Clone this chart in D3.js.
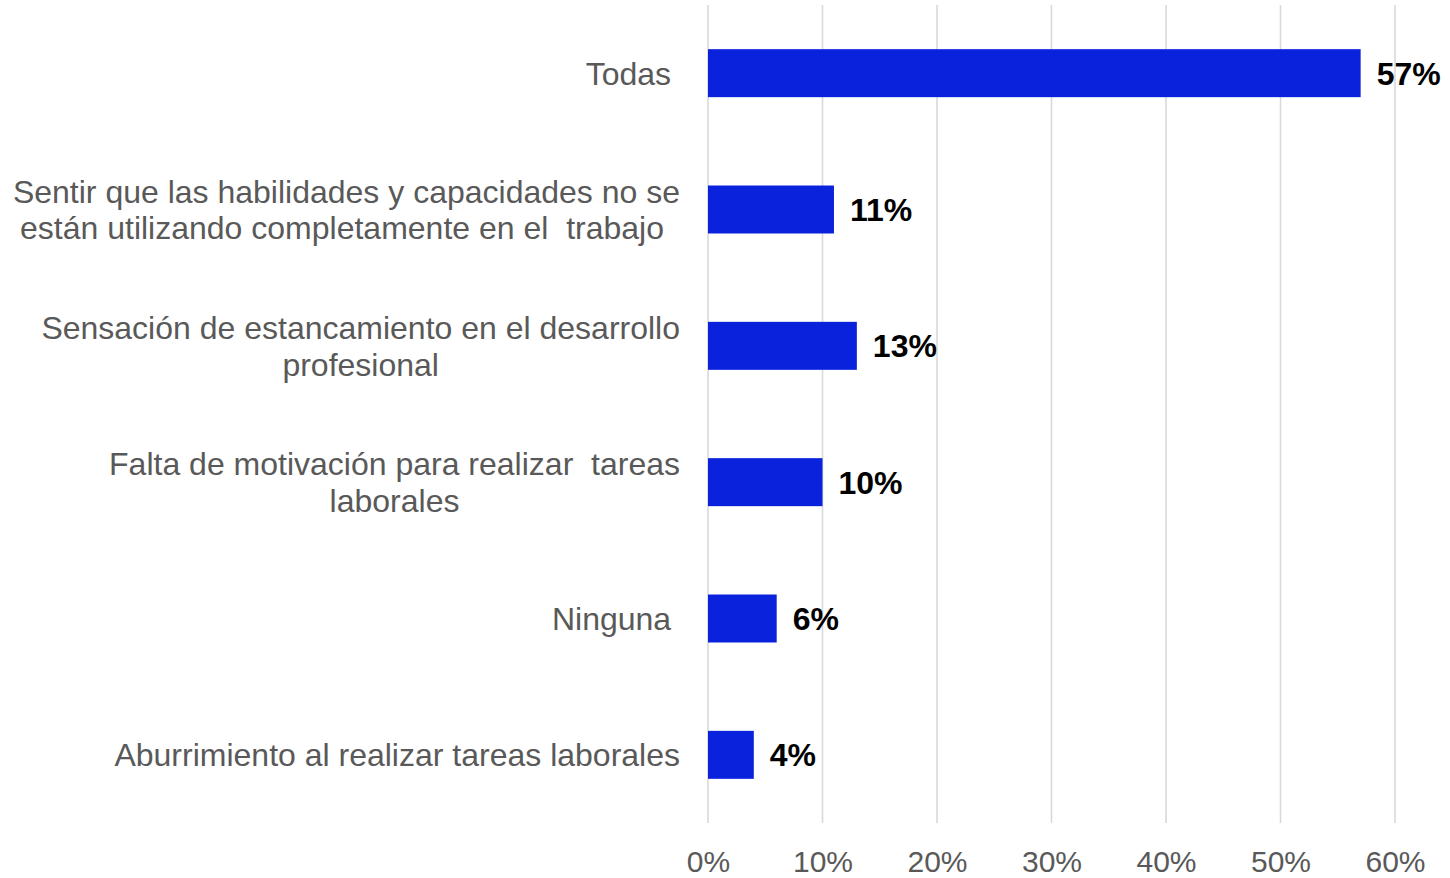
<!DOCTYPE html>
<html>
<head>
<meta charset="utf-8">
<script src="https://cdn.jsdelivr.net/npm/d3@7"></script>
<style>
  body { margin: 0; background: #fff; }
  text { font-family: "Liberation Sans", Arial, sans-serif; white-space: pre; }
</style>
</head>
<body>
<div id="chart"></div>
<script>
// chart data
const categories = [
  ['Todas '],
  ['Sentir que las habilidades y capacidades no se', 'están utilizando completamente en el  trabajo '],
  ['Sensación de estancamiento en el desarrollo', 'profesional'],
  ['Falta de motivación para realizar  tareas', 'laborales'],
  ['Ninguna '],
  ['Aburrimiento al realizar tareas laborales']
];
const values = [57, 11, 13, 10, 6, 4];
const tickValues = [0, 10, 20, 30, 40, 50, 60];

const width = 1450;
const height = 878;
const margin = { top: 5, right: 55, bottom: 55, left: 708 };

const svg = d3.select('#chart').append('svg')
    .attr('width', width)
    .attr('height', height);

const x = d3.scaleLinear()
    .domain([0, 60])
    .range([margin.left, width - margin.right]);

const y = d3.scaleBand()
    .domain(d3.range(values.length))
    .range([margin.top, height - margin.bottom])
    .paddingInner(0.648)
    .paddingOuter(0.324);

// gridlines
svg.append('g')
    .attr('class', 'grid')
  .selectAll('line')
  .data(tickValues)
  .join('line')
    .attr('x1', d => x(d))
    .attr('x2', d => x(d))
    .attr('y1', margin.top)
    .attr('y2', height - margin.bottom)
    .attr('stroke', '#d9d9d9')
    .attr('stroke-width', 1.6);

// x axis labels
const xAxis = d3.axisBottom(x)
    .tickValues(tickValues)
    .tickFormat(d => d + '%')
    .tickSize(0)
    .tickPadding(28);

svg.append('g')
    .attr('transform', `translate(0, ${height - margin.bottom})`)
    .call(xAxis)
    .call(g => g.select('.domain').remove())
    .call(g => g.selectAll('text')
      .attr('fill', '#595959')
      .style('font-size', '30px')
      .style('font-family', '"Liberation Sans", Arial, sans-serif'));

// bars
svg.append('g')
  .selectAll('rect')
  .data(values)
  .join('rect')
    .attr('x', x(0))
    .attr('y', (d, i) => y(i))
    .attr('width', d => x(d) - x(0))
    .attr('height', y.bandwidth())
    .attr('fill', '#0a22dc');

// value labels
svg.append('g')
  .selectAll('text')
  .data(values)
  .join('text')
    .attr('x', d => x(d) + 16)
    .attr('y', (d, i) => y(i) + y.bandwidth() / 2)
    .attr('dy', '0.36em')
    .attr('font-size', 32)
    .attr('font-weight', 'bold')
    .attr('fill', '#000')
    .text(d => d + '%');

// category labels: lines centred within block, block right-aligned
const labelRight = 680;
const lineHeight = 36.5;
const labels = svg.append('g');

categories.forEach((lines, i) => {
  const cy = y(i) + y.bandwidth() / 2;
  const t = labels.append('text')
      .attr('font-size', 32)
      .attr('fill', '#595959')
      .attr('text-anchor', 'middle');
  const spans = lines.map((line, j) => t.append('tspan')
      .attr('y', cy + (j - (lines.length - 1) / 2) * lineHeight)
      .attr('dy', '0.36em')
      .text(line));
  const maxW = d3.max(spans, s => s.node().getComputedTextLength());
  spans.forEach(s => s.attr('x', labelRight - maxW / 2));
});
</script>
</body>
</html>
